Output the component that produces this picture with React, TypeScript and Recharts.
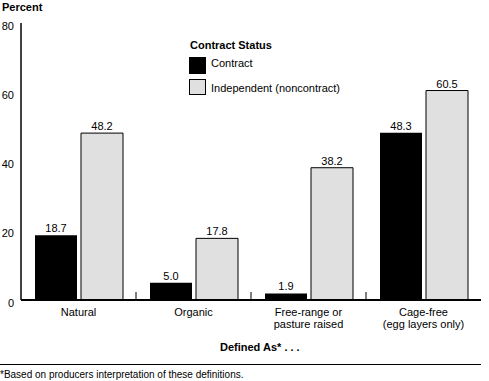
import { BarChart, Bar, XAxis, YAxis, LabelList, Legend } from 'recharts'

const categories = ['Natural', 'Organic', 'Free-range or\npasture raised', 'Cage-free\n(egg layers only)']
const contractValues = [18.7, 5.0, 1.9, 48.3]
const independentValues = [48.2, 17.8, 38.2, 60.5]
const yTicks = [0, 20, 40, 60, 80]

const data = categories.map((name, i) => ({
    name,
    contract: contractValues[i],
    independent: independentValues[i],
}))

const FONT = 'Arial, "Liberation Sans", Helvetica, sans-serif'
const GREY = '#e0e0e0'

function CategoryTick(props: any) {
    const { x, y, payload, index } = props
    const lines = String(payload.value).split('\n')
    const half = payload.offset ?? 57.5
    return (
        <g>
            {index > 0 && (
                <line x1={x - half} x2={x - half} y1={y - 8} y2={y} stroke="#000" strokeWidth={1} />
            )}
            <text x={x} y={y + 15.7} textAnchor="middle" fontSize={11} fontFamily={FONT} fill="#000">
                {lines.map((line, i) => (
                    <tspan key={i} x={x} dy={i === 0 ? 0 : 12}>
                        {line}
                    </tspan>
                ))}
            </text>
        </g>
    )
}

function PercentTick(props: any) {
    const { x, y, payload } = props
    return (
        <text x={x - 7} y={y + 6.5} textAnchor="end" fontSize={11} fontFamily={FONT} fill="#000">
            {payload.value}
        </text>
    )
}

function StatusLegend() {
    const text = { position: 'absolute' as const, left: 22, fontSize: 11, lineHeight: '13px', whiteSpace: 'nowrap' as const, color: '#000' }
    return (
        <div style={{ position: 'relative', width: 200, height: 60, fontFamily: FONT }}>
            <div style={{ ...text, left: 1, top: 1.2, fontWeight: 'bold' }}>Contract Status</div>
            <div style={{ position: 'absolute', left: 0, top: 19, width: 17, height: 17, background: '#000' }} />
            <div style={{ ...text, top: 19.4 }}>Contract</div>
            <div style={{ position: 'absolute', left: 0, top: 41, width: 17, height: 16, background: GREY, border: '1px solid #000', boxSizing: 'border-box' }} />
            <div style={{ ...text, top: 44.4 }}>Independent (noncontract)</div>
        </div>
    )
}

export default function App() {
    return (
        <div style={{ position: 'absolute', left: 0, top: 0, width: 489, height: 381, background: '#fff', fontFamily: FONT }}>
            <BarChart
                width={489}
                height={381}
                data={data}
                margin={{ top: 23, right: 8, left: 0, bottom: 0 }}
                barCategoryGap={14}
                barGap={4}
            >
                <YAxis
                    width={21}
                    domain={[0, 80]}
                    ticks={yTicks}
                    interval={0}
                    tickLine={false}
                    tickSize={0}
                    tickMargin={0}
                    axisLine={{ stroke: '#000', strokeWidth: 1.5 }}
                    tick={PercentTick}
                />
                <XAxis
                    dataKey="name"
                    height={81}
                    interval={0}
                    tickLine={false}
                    tickSize={0}
                    tickMargin={0}
                    axisLine={{ stroke: '#000', strokeWidth: 2 }}
                    tick={CategoryTick}
                />
                <Legend
                    layout="horizontal"
                    verticalAlign="middle"
                    align="center"
                    content={() => <StatusLegend />}
                    wrapperStyle={{ top: 38, left: 189, width: 200, height: 60 }}
                />
                <Bar dataKey="contract" name="Contract" fill="#000" isAnimationActive={false}>
                    <LabelList
                        dataKey="contract"
                        position="top"
                        offset={3}
                        formatter={(v: any) => Number(v).toFixed(1)}
                        style={{ fontSize: 11, fontFamily: FONT, fill: '#000' }}
                    />
                </Bar>
                <Bar dataKey="independent" name="Independent (noncontract)" fill={GREY} stroke="#000" strokeWidth={1} isAnimationActive={false}>
                    <LabelList
                        dataKey="independent"
                        position="top"
                        offset={3}
                        formatter={(v: any) => Number(v).toFixed(1)}
                        style={{ fontSize: 11, fontFamily: FONT, fill: '#000' }}
                    />
                </Bar>
            </BarChart>
            <div style={{ position: 'absolute', left: 2, top: 0.7, fontSize: 11, lineHeight: '13px', fontWeight: 'bold', whiteSpace: 'nowrap' }}>
                Percent
            </div>
            <div style={{ position: 'absolute', left: 220, top: 341.2, fontSize: 11, lineHeight: '13px', fontWeight: 'bold', whiteSpace: 'nowrap' }}>
                Defined As* . . .
            </div>
            <div style={{ position: 'absolute', left: 0, top: 364, width: 481, height: 1, background: '#000' }} />
            <div style={{ position: 'absolute', left: 0, top: 368.5, fontSize: 10, lineHeight: '12px', whiteSpace: 'nowrap' }}>
                *Based on producers interpretation of these definitions.
            </div>
        </div>
    )
}
